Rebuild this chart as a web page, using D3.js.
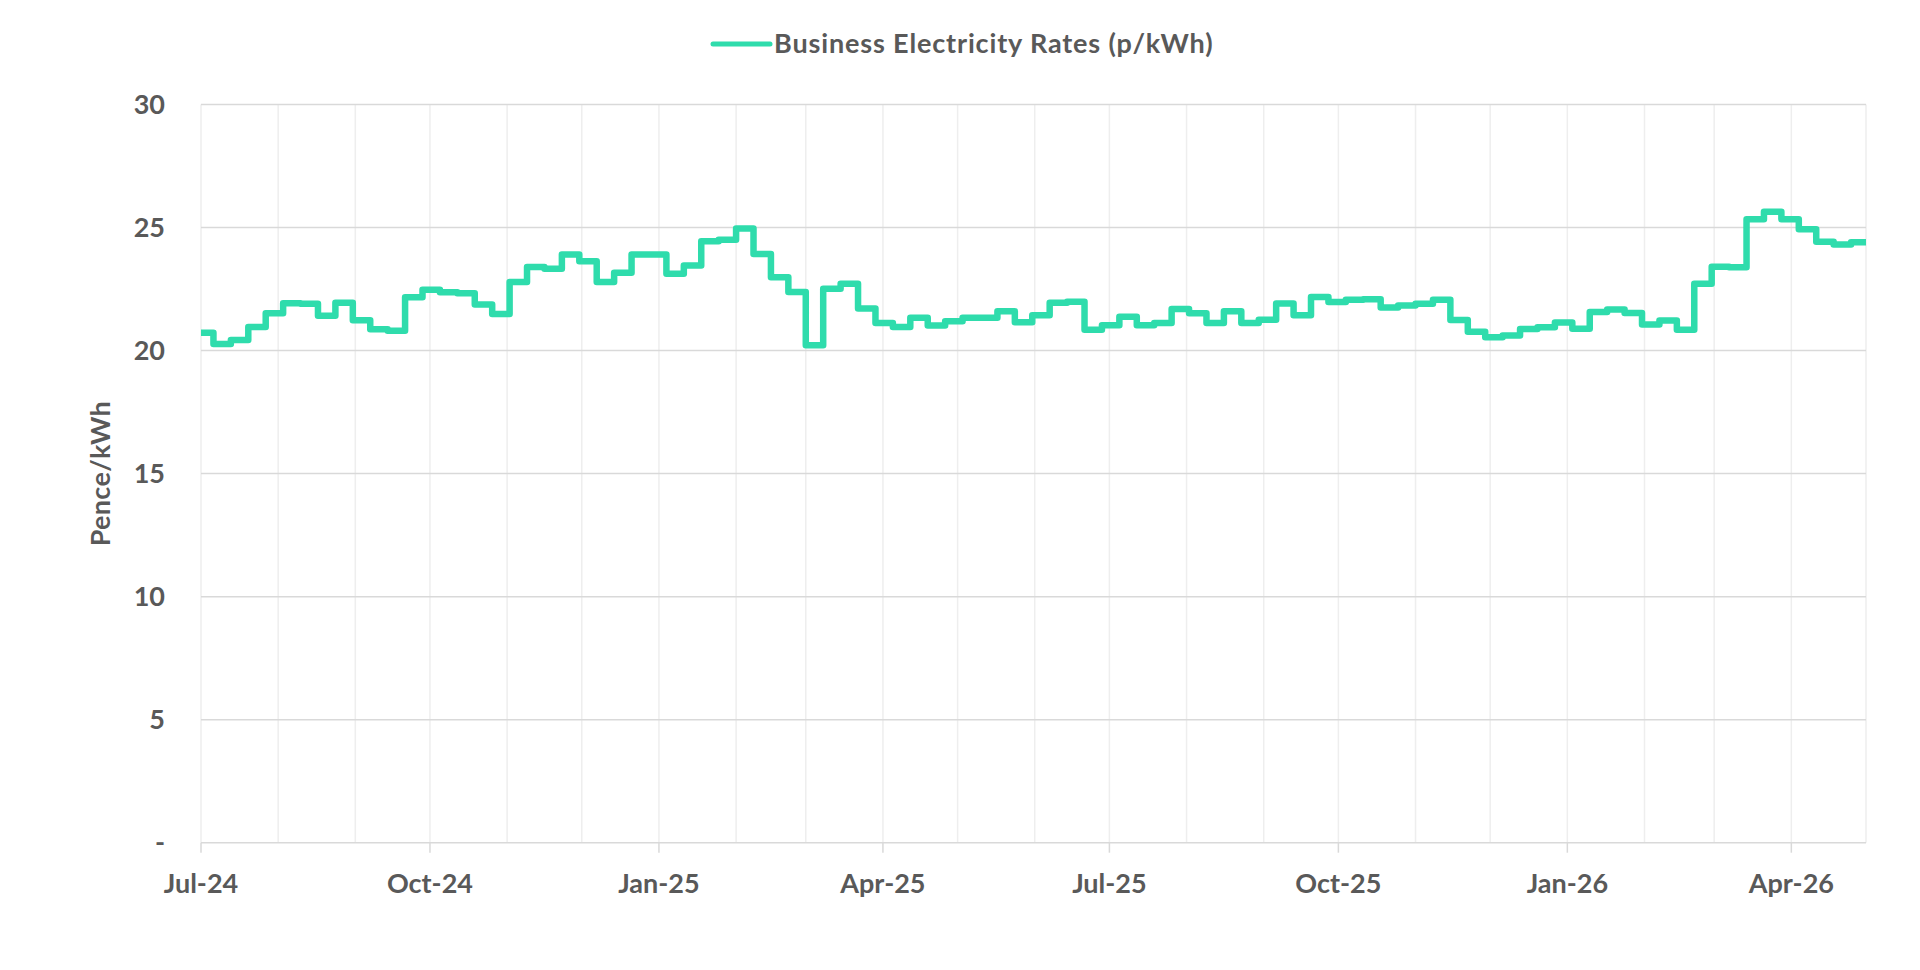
<!DOCTYPE html>
<html>
<head>
<meta charset="utf-8">
<script src="https://cdn.jsdelivr.net/npm/d3@7"></script>
<style>
  body { margin: 0; background: #fff; }
  text { font-family: Lato, "Open Sans", sans-serif; font-weight: bold; fill: #595959; }
</style>
</head>
<body>
<div id="chart"></div>
<script>
// 1: DATA
const seriesName = "Business Electricity Rates (p/kWh)";
const xStart = new Date(2024, 6, 1);
const xEnd = new Date(2026, 4, 1);
// weekly rate changes, every Saturday from 29 Jun 2024
const weekStarts = d3.timeSaturday.range(new Date(2024, 5, 29), xEnd);
const rates = [
  20.72, 20.27, 20.43, 20.96, 21.52, 21.92, 21.90, 21.42, 21.94, 21.23,
  20.87, 20.81, 22.17, 22.47, 22.37, 22.33, 21.87, 21.49, 22.79, 23.40,
  23.33, 23.90, 23.63, 22.79, 23.16, 23.90, 23.90, 23.12, 23.46, 24.44,
  24.50, 24.96, 23.92, 22.98, 22.38, 20.22, 22.51, 22.72, 21.71, 21.12,
  20.96, 21.33, 21.02, 21.19, 21.33, 21.33, 21.60, 21.15, 21.44, 21.94,
  21.98, 20.85, 21.03, 21.37, 21.03, 21.12, 21.69, 21.52, 21.12, 21.60,
  21.12, 21.25, 21.91, 21.44, 22.18, 21.97, 22.07, 22.09, 21.75, 21.83,
  21.90, 22.07, 21.24, 20.76, 20.54, 20.61, 20.88, 20.95, 21.14, 20.89,
  21.57, 21.67, 21.53, 21.06, 21.22, 20.85, 22.72, 23.41, 23.39, 25.34,
  25.64, 25.34, 24.93, 24.42, 24.31, 24.40
];
const yTicks = [0, 5, 10, 15, 20, 25, 30];
const xLabelDates = [
  new Date(2024, 6, 1), new Date(2024, 9, 1), new Date(2025, 0, 1), new Date(2025, 3, 1),
  new Date(2025, 6, 1), new Date(2025, 9, 1), new Date(2026, 0, 1), new Date(2026, 3, 1)
];

const data = weekStarts.map((d, i) => ({ date: d, value: rates[i] }));
// hold the last value to the end of the axis
data.push({ date: xEnd, value: rates[rates.length - 1] });

// 2: LAYOUT
const W = 1920, H = 970;
const plot = { left: 201, right: 1866, top: 104.5, bottom: 842.7 };
const lineColor = "#2fdcac";
const fontSize = "27px";

const svg = d3.select("#chart")
  .append("svg")
  .attr("width", W)
  .attr("height", H);

const x = d3.scaleTime()
  .domain([xStart, xEnd])
  .range([plot.left, plot.right]);

const y = d3.scaleLinear()
  .domain([0, 30])
  .range([plot.bottom, plot.top]);

// monthly vertical gridlines
svg.append("g")
  .selectAll("line")
  .data(d3.timeMonth.range(xStart, d3.timeDay.offset(xEnd, 1)))
  .enter().append("line")
  .attr("x1", d => x(d)).attr("x2", d => x(d))
  .attr("y1", plot.top).attr("y2", plot.bottom)
  .attr("stroke", "#eeeeee")
  .attr("stroke-width", 1.5);

// horizontal gridlines
svg.append("g")
  .selectAll("line")
  .data(yTicks)
  .enter().append("line")
  .attr("x1", plot.left).attr("x2", plot.right)
  .attr("y1", d => y(d)).attr("y2", d => y(d))
  .attr("stroke", "#d9d9d9")
  .attr("stroke-width", 1.5);

// y axis labels
svg.append("g")
  .selectAll("text")
  .data(yTicks)
  .enter().append("text")
  .attr("x", 165)
  .attr("y", d => y(d))
  .attr("dy", "0.35em")
  .attr("text-anchor", "end")
  .style("font-size", fontSize)
  .text(d => d === 0 ? "-" : d);

// x axis ticks + labels
svg.append("g")
  .selectAll("line")
  .data(xLabelDates)
  .enter().append("line")
  .attr("x1", d => x(d)).attr("x2", d => x(d))
  .attr("y1", plot.bottom).attr("y2", plot.bottom + 10)
  .attr("stroke", "#d9d9d9")
  .attr("stroke-width", 1.5);

svg.append("g")
  .selectAll("text")
  .data(xLabelDates)
  .enter().append("text")
  .attr("x", d => x(d))
  .attr("y", plot.bottom + 50)
  .attr("text-anchor", "middle")
  .style("font-size", fontSize)
  .text(d => d3.timeFormat("%b-%y")(d));

// y axis title
svg.append("text")
  .attr("transform", `translate(101, ${(plot.top + plot.bottom) / 2}) rotate(-90)`)
  .attr("dy", "0.35em")
  .attr("text-anchor", "middle")
  .style("font-size", fontSize)
  .style("letter-spacing", "0.3px")
  .text("Pence/kWh");

// step line
const line = d3.line()
  .x(d => x(d.date))
  .y(d => y(d.value))
  .curve(d3.curveStepAfter);

svg.append("clipPath")
  .attr("id", "plotClip")
  .append("rect")
  .attr("x", plot.left).attr("y", 0)
  .attr("width", plot.right - plot.left + 3)
  .attr("height", H);

svg.append("path")
  .datum(data)
  .attr("clip-path", "url(#plotClip)")
  .attr("fill", "none")
  .attr("stroke", lineColor)
  .attr("stroke-width", 6.5)
  .attr("stroke-linejoin", "round")
  .attr("d", line);

// legend
const legend = svg.append("g").attr("transform", "translate(713, 44)");
legend.append("line")
  .attr("x1", 0).attr("x2", 57)
  .attr("stroke", lineColor)
  .attr("stroke-width", 5)
  .attr("stroke-linecap", "round");
legend.append("text")
  .attr("x", 61)
  .attr("y", 9)
  .style("font-size", fontSize)
  .style("letter-spacing", "0.85px")
  .text(seriesName);
</script>
</body>
</html>
